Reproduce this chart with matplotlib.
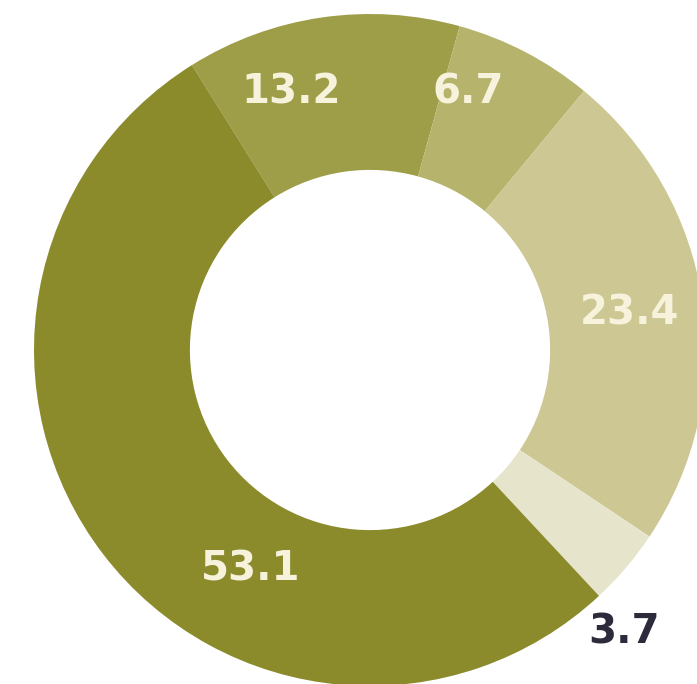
import numpy as np
import matplotlib.pyplot as plt

# shares in percent, clockwise from the top-left
labels = ['13.2', '6.7', '23.4', '3.7', '53.1']
values = [13.2, 6.7, 23.4, 3.7, 53.1]
colors = ['#9e9d48', '#b6b36c', '#cdc893', '#e7e4cc', '#8b8b2c']

# where each number sits (angle in degrees, radius), plus its colour
label_angles = [107, 69, 8, -48, -118.5]
label_radii = [0.80, 0.82, 0.78, 1.13, 0.745]
label_colors = ['#f6f2dc', '#f6f2dc', '#f6f2dc', '#2b2b3b', '#f6f2dc']

fig = plt.figure(figsize=(6.97, 6.84), dpi=100)
ax = fig.add_axes([0, 0, 1, 1])

ax.pie(values, colors=colors, startangle=122, counterclock=False,
       radius=1.0, wedgeprops=dict(width=0.464, linewidth=0))

for lab, ang, r, c in zip(labels, label_angles, label_radii, label_colors):
    a = np.deg2rad(ang)
    ax.text(r * np.cos(a), r * np.sin(a), lab, ha='center', va='center',
            fontsize=29, fontweight='bold', color=c)

# centre of the ring sits at about (370, 350) px, radius about 336 px
ax.set_xlim(-370 / 336, (697 - 370) / 336)
ax.set_ylim(-(684 - 350) / 336, 350 / 336)
ax.set_aspect('auto')
ax.axis('off')

fig.savefig('out.png', dpi=100, facecolor='white')
